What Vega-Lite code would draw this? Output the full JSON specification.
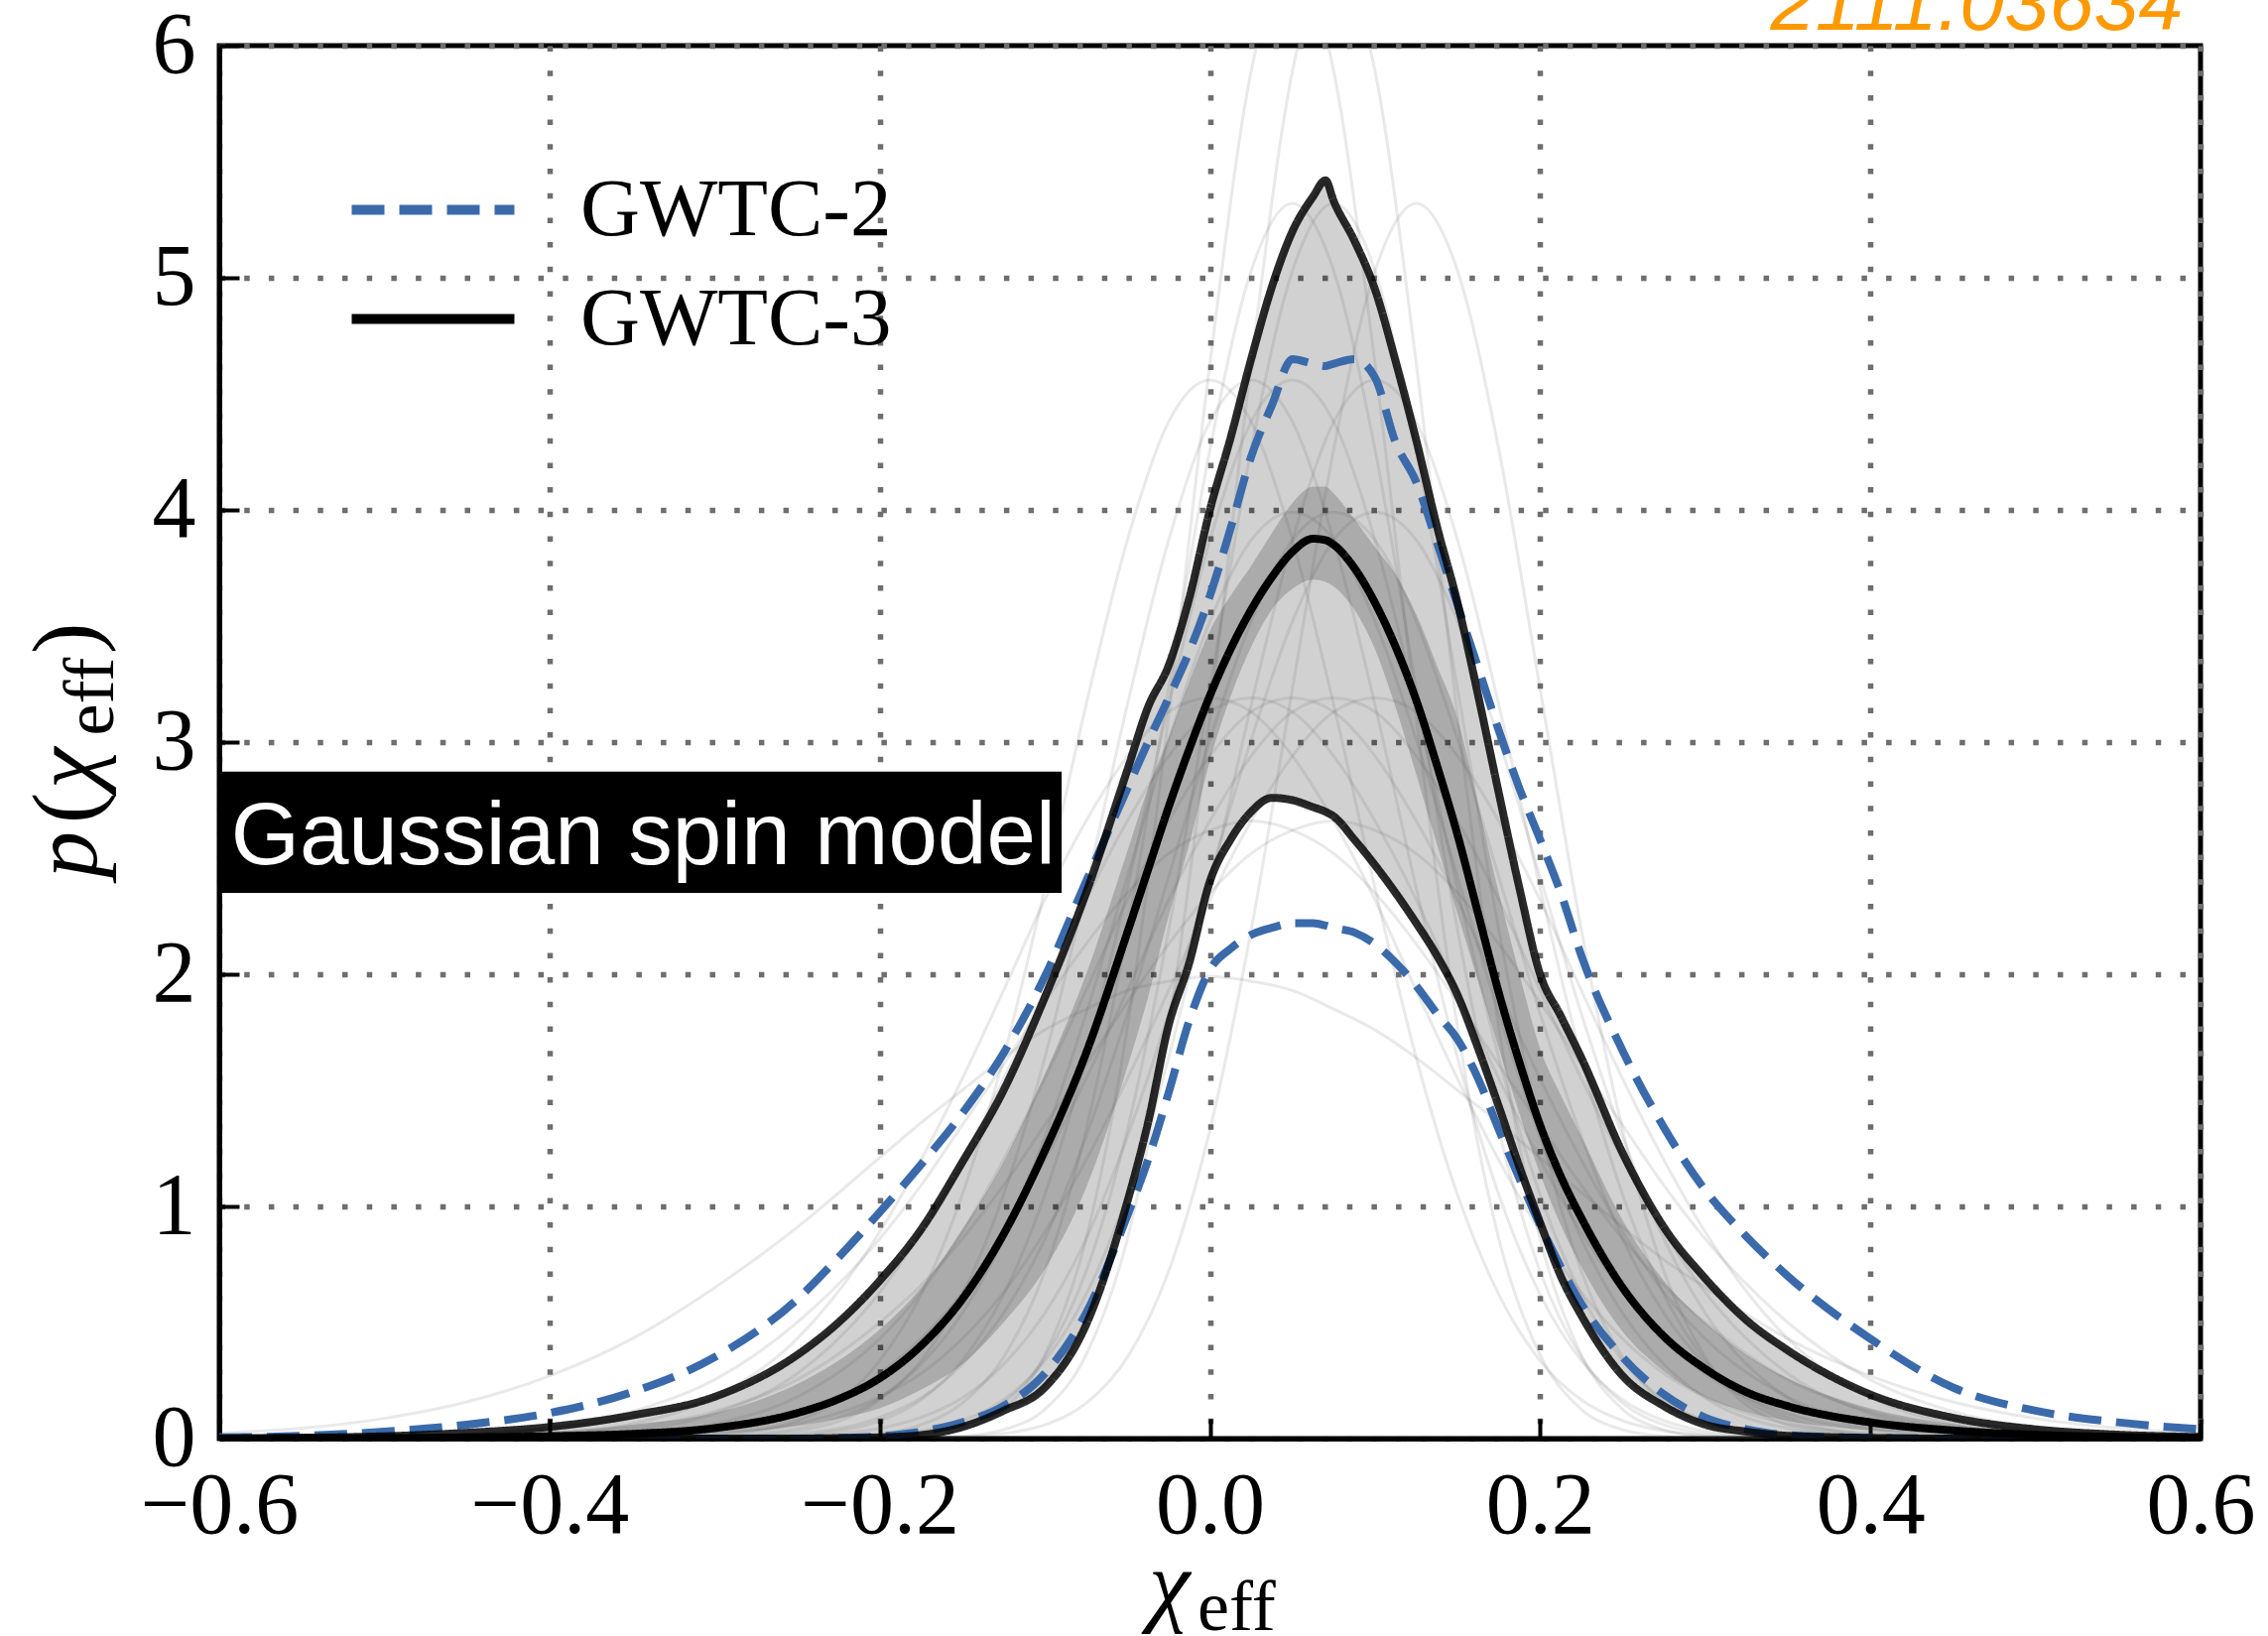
{
  "$schema": "https://vega.github.io/schema/vega-lite/v6.json",
  "width": 1997,
  "height": 1404,
  "autosize": {"type": "none"},
  "padding": {"left": 221, "top": 46, "right": 68, "bottom": 199},
  "background": "white",
  "config": {
    "view": {"stroke": "black", "strokeWidth": 5},
    "axis": {
      "domain": true, "domainColor": "black", "domainWidth": 5,
      "ticks": true, "tickColor": "black", "tickWidth": 4, "tickSize": -20,
      "labelFont": "Liberation Serif", "labelFontSize": 88, "labelColor": "black",
      "labelPadding": 44, "labelFlush": false, "labelOverlap": false, "labelBound": false,
      "grid": true, "gridColor": "#6e6e6e", "gridWidth": 5.5, "gridDash": [5.5, 19.2],
      "zindex": 1
    },
    "legend": {
      "orient": "top-left", "offset": 123.5, "padding": 0,
      "symbolType": "stroke", "symbolSize": 26896, "symbolStrokeWidth": 10, "symbolOffset": 4.5,
      "symbolOpacity": 1,
      "labelFont": "Liberation Serif", "labelFontSize": 83, "labelColor": "black",
      "labelOffset": 61.5, "clipHeight": 83, "rowPadding": 26, "labelLimit": 0
    }
  },
  "datasets": {
    "curves": [
      {"x": -0.6, "lo2": 0, "hi2": 0.005, "lo3": 0, "med3": 0, "hi3": 0.001, "loI": 0, "hiI": 0.0005},
      {"x": -0.55, "lo2": 0, "hi2": 0.012, "lo3": 0, "med3": 0.001, "hi3": 0.004, "loI": 0.0005, "hiI": 0.0025},
      {"x": -0.5, "lo2": 0, "hi2": 0.03, "lo3": 0, "med3": 0.002, "hi3": 0.01, "loI": 0.001, "hiI": 0.006},
      {"x": -0.45, "lo2": 0, "hi2": 0.06, "lo3": 0, "med3": 0.005, "hi3": 0.025, "loI": 0.0025, "hiI": 0.015},
      {"x": -0.4, "lo2": 0, "hi2": 0.11, "lo3": 0, "med3": 0.01, "hi3": 0.05, "loI": 0.005, "hiI": 0.03},
      {"x": -0.35, "lo2": 0, "hi2": 0.2, "lo3": 0, "med3": 0.02, "hi3": 0.1, "loI": 0.01, "hiI": 0.06},
      {"x": -0.3, "lo2": 0, "hi2": 0.35, "lo3": 0, "med3": 0.045, "hi3": 0.18, "loI": 0.02, "hiI": 0.11},
      {"x": -0.25, "lo2": 0, "hi2": 0.6, "lo3": 0, "med3": 0.11, "hi3": 0.36, "loI": 0.055, "hiI": 0.235},
      {"x": -0.225, "lo2": 0.003, "hi2": 0.78, "lo3": 0.002, "med3": 0.17, "hi3": 0.5, "loI": 0.086, "hiI": 0.335},
      {"x": -0.2, "lo2": 0.01, "hi2": 0.975, "lo3": 0.005, "med3": 0.26, "hi3": 0.68, "loI": 0.13, "hiI": 0.47},
      {"x": -0.175, "lo2": 0.03, "hi2": 1.18, "lo3": 0.015, "med3": 0.4, "hi3": 0.9, "loI": 0.21, "hiI": 0.65},
      {"x": -0.15, "lo2": 0.07, "hi2": 1.4, "lo3": 0.05, "med3": 0.6, "hi3": 1.19, "loI": 0.32, "hiI": 0.9},
      {"x": -0.125, "lo2": 0.14, "hi2": 1.66, "lo3": 0.12, "med3": 0.88, "hi3": 1.5, "loI": 0.5, "hiI": 1.19},
      {"x": -0.1, "lo2": 0.28, "hi2": 1.99, "lo3": 0.22, "med3": 1.24, "hi3": 1.9, "loI": 0.73, "hiI": 1.57},
      {"x": -0.075, "lo2": 0.54, "hi2": 2.4, "lo3": 0.49, "med3": 1.66, "hi3": 2.35, "loI": 1.08, "hiI": 2.0},
      {"x": -0.05, "lo2": 0.96, "hi2": 2.8, "lo3": 1.02, "med3": 2.18, "hi3": 2.88, "loI": 1.6, "hiI": 2.53},
      {"x": -0.0375, "lo2": 1.2, "hi2": 3.0, "lo3": 1.36, "med3": 2.45, "hi3": 3.15, "loI": 1.9, "hiI": 2.8},
      {"x": -0.025, "lo2": 1.49, "hi2": 3.19, "lo3": 1.78, "med3": 2.72, "hi3": 3.33, "loI": 2.25, "hiI": 3.02},
      {"x": -0.0125, "lo2": 1.8, "hi2": 3.39, "lo3": 2.05, "med3": 2.97, "hi3": 3.62, "loI": 2.56, "hiI": 3.26},
      {"x": 0, "lo2": 2.02, "hi2": 3.63, "lo3": 2.4, "med3": 3.2, "hi3": 4.0, "loI": 2.92, "hiI": 3.48},
      {"x": 0.0125, "lo2": 2.11, "hi2": 3.92, "lo3": 2.58, "med3": 3.4, "hi3": 4.31, "loI": 3.195, "hiI": 3.63},
      {"x": 0.025, "lo2": 2.17, "hi2": 4.23, "lo3": 2.7, "med3": 3.57, "hi3": 4.65, "loI": 3.41, "hiI": 3.76},
      {"x": 0.0375, "lo2": 2.2, "hi2": 4.45, "lo3": 2.76, "med3": 3.71, "hi3": 4.96, "loI": 3.57, "hiI": 3.9},
      {"x": 0.05, "lo2": 2.22, "hi2": 4.65, "lo3": 2.75, "med3": 3.82, "hi3": 5.2, "loI": 3.66, "hiI": 4.03},
      {"x": 0.0625, "lo2": 2.22, "hi2": 4.63, "lo3": 2.72, "med3": 3.876, "hi3": 5.35, "loI": 3.7, "hiI": 4.1},
      {"x": 0.07, "lo2": 2.21, "hi2": 4.62, "lo3": 2.7, "med3": 3.87, "hi3": 5.42, "loI": 3.69, "hiI": 4.1},
      {"x": 0.075, "lo2": 2.2, "hi2": 4.63, "lo3": 2.68, "med3": 3.85, "hi3": 5.33, "loI": 3.67, "hiI": 4.07},
      {"x": 0.0875, "lo2": 2.18, "hi2": 4.65, "lo3": 2.58, "med3": 3.75, "hi3": 5.16, "loI": 3.57, "hiI": 3.96},
      {"x": 0.1, "lo2": 2.13, "hi2": 4.57, "lo3": 2.47, "med3": 3.6, "hi3": 4.95, "loI": 3.4, "hiI": 3.84},
      {"x": 0.1125, "lo2": 2.05, "hi2": 4.29, "lo3": 2.35, "med3": 3.41, "hi3": 4.64, "loI": 3.15, "hiI": 3.72},
      {"x": 0.125, "lo2": 1.95, "hi2": 4.12, "lo3": 2.22, "med3": 3.18, "hi3": 4.3, "loI": 2.86, "hiI": 3.55},
      {"x": 0.1375, "lo2": 1.83, "hi2": 3.86, "lo3": 2.08, "med3": 2.9, "hi3": 3.93, "loI": 2.56, "hiI": 3.33},
      {"x": 0.15, "lo2": 1.72, "hi2": 3.59, "lo3": 1.91, "med3": 2.6, "hi3": 3.6, "loI": 2.26, "hiI": 3.1},
      {"x": 0.1625, "lo2": 1.55, "hi2": 3.32, "lo3": 1.68, "med3": 2.26, "hi3": 3.2, "loI": 1.97, "hiI": 2.73},
      {"x": 0.175, "lo2": 1.33, "hi2": 3.05, "lo3": 1.43, "med3": 1.92, "hi3": 2.78, "loI": 1.68, "hiI": 2.35},
      {"x": 0.1875, "lo2": 1.12, "hi2": 2.8, "lo3": 1.17, "med3": 1.62, "hi3": 2.37, "loI": 1.4, "hiI": 2.0},
      {"x": 0.2, "lo2": 0.92, "hi2": 2.58, "lo3": 0.93, "med3": 1.35, "hi3": 2.0, "loI": 1.14, "hiI": 1.68},
      {"x": 0.2125, "lo2": 0.74, "hi2": 2.35, "lo3": 0.7, "med3": 1.13, "hi3": 1.82, "loI": 0.92, "hiI": 1.48},
      {"x": 0.225, "lo2": 0.58, "hi2": 2.08, "lo3": 0.53, "med3": 0.95, "hi3": 1.64, "loI": 0.74, "hiI": 1.3},
      {"x": 0.25, "lo2": 0.35, "hi2": 1.67, "lo3": 0.27, "med3": 0.65, "hi3": 1.23, "loI": 0.46, "hiI": 0.94},
      {"x": 0.275, "lo2": 0.19, "hi2": 1.34, "lo3": 0.14, "med3": 0.44, "hi3": 0.91, "loI": 0.29, "hiI": 0.68},
      {"x": 0.3, "lo2": 0.09, "hi2": 1.07, "lo3": 0.06, "med3": 0.3, "hi3": 0.69, "loI": 0.18, "hiI": 0.5},
      {"x": 0.325, "lo2": 0.04, "hi2": 0.87, "lo3": 0.03, "med3": 0.2, "hi3": 0.51, "loI": 0.115, "hiI": 0.36},
      {"x": 0.35, "lo2": 0.015, "hi2": 0.7, "lo3": 0.012, "med3": 0.14, "hi3": 0.38, "loI": 0.076, "hiI": 0.26},
      {"x": 0.4, "lo2": 0.003, "hi2": 0.43, "lo3": 0.003, "med3": 0.07, "hi3": 0.19, "loI": 0.036, "hiI": 0.13},
      {"x": 0.45, "lo2": 0, "hi2": 0.22, "lo3": 0, "med3": 0.035, "hi3": 0.09, "loI": 0.018, "hiI": 0.063},
      {"x": 0.5, "lo2": 0, "hi2": 0.12, "lo3": 0, "med3": 0.016, "hi3": 0.04, "loI": 0.008, "hiI": 0.028},
      {"x": 0.55, "lo2": 0, "hi2": 0.07, "lo3": 0, "med3": 0.007, "hi3": 0.017, "loI": 0.003, "hiI": 0.012},
      {"x": 0.6, "lo2": 0, "hi2": 0.04, "lo3": 0, "med3": 0.003, "hi3": 0.007, "loI": 0.0015, "hiI": 0.005}
    ],
    "traces": [
      {"x": -0.6, "t1": 0, "t2": 0, "t3": 0, "t4": 0, "t5": 0, "t6": 0, "t7": 0, "t8": 0, "t9": 0, "t10": 0, "t11": 0, "t12": 0, "t13": 0, "t14": 0, "t15": 0, "t16": 0.022, "t17": 0, "t18": 0, "t19": 0, "t20": 0},
      {"x": -0.5, "t1": 0, "t2": 0, "t3": 0, "t4": 0, "t5": 0, "t6": 0.001, "t7": 0, "t8": 0, "t9": 0, "t10": 0, "t11": 0, "t12": 0, "t13": 0, "t14": 0.006, "t15": 0.002, "t16": 0.087, "t17": 0, "t18": 0, "t19": 0.001, "t20": 0},
      {"x": -0.45, "t1": 0, "t2": 0, "t3": 0, "t4": 0, "t5": 0, "t6": 0.002, "t7": 0.001, "t8": 0, "t9": 0, "t10": 0, "t11": 0, "t12": 0, "t13": 0, "t14": 0.018, "t15": 0.006, "t16": 0.158, "t17": 0, "t18": 0, "t19": 0.005, "t20": 0},
      {"x": -0.4, "t1": 0, "t2": 0, "t3": 0, "t4": 0, "t5": 0, "t6": 0.01, "t7": 0.005, "t8": 0.002, "t9": 0, "t10": 0, "t11": 0, "t12": 0, "t13": 0, "t14": 0.048, "t15": 0.018, "t16": 0.27, "t17": 0.001, "t18": 0, "t19": 0.019, "t20": 0},
      {"x": -0.35, "t1": 0.001, "t2": 0, "t3": 0, "t4": 0, "t5": 0, "t6": 0.035, "t7": 0.019, "t8": 0.01, "t9": 0, "t10": 0, "t11": 0, "t12": 0, "t13": 0.002, "t14": 0.117, "t15": 0.048, "t16": 0.43, "t17": 0.005, "t18": 0, "t19": 0.063, "t20": 0},
      {"x": -0.3, "t1": 0.009, "t2": 0.004, "t3": 0, "t4": 0, "t5": 0, "t6": 0.108, "t7": 0.063, "t8": 0.035, "t9": 0.001, "t10": 0.005, "t11": 0, "t12": 0, "t13": 0.013, "t14": 0.254, "t15": 0.117, "t16": 0.65, "t17": 0.019, "t18": 0, "t19": 0.179, "t20": 0.002},
      {"x": -0.25, "t1": 0.044, "t2": 0.02, "t3": 0.002, "t4": 0, "t5": 0.002, "t6": 0.28, "t7": 0.179, "t8": 0.108, "t9": 0.009, "t10": 0.033, "t11": 0, "t12": 0, "t13": 0.077, "t14": 0.5, "t15": 0.254, "t16": 0.91, "t17": 0.063, "t18": 0, "t19": 0.43, "t20": 0.013},
      {"x": -0.2, "t1": 0.175, "t2": 0.091, "t3": 0.021, "t4": 0.006, "t5": 0.013, "t6": 0.63, "t7": 0.43, "t8": 0.28, "t9": 0.044, "t10": 0.167, "t11": 0.002, "t12": 0, "t13": 0.335, "t14": 0.86, "t15": 0.5, "t16": 1.21, "t17": 0.179, "t18": 0, "t19": 0.89, "t20": 0.077},
      {"x": -0.175, "t1": 0.32, "t2": 0.175, "t3": 0.059, "t4": 0.021, "t5": 0.033, "t6": 0.89, "t7": 0.63, "t8": 0.43, "t9": 0.091, "t10": 0.335, "t11": 0.01, "t12": 0.002, "t13": 0.62, "t14": 1.09, "t15": 0.66, "t16": 1.36, "t17": 0.28, "t18": 0.002, "t19": 1.2, "t20": 0.167},
      {"x": -0.15, "t1": 0.54, "t2": 0.32, "t3": 0.152, "t4": 0.059, "t5": 0.077, "t6": 1.2, "t7": 0.89, "t8": 0.63, "t9": 0.175, "t10": 0.62, "t11": 0.038, "t12": 0.01, "t13": 1.05, "t14": 1.35, "t15": 0.86, "t16": 1.5, "t17": 0.43, "t18": 0.006, "t19": 1.55, "t20": 0.335},
      {"x": -0.125, "t1": 0.86, "t2": 0.54, "t3": 0.35, "t4": 0.152, "t5": 0.167, "t6": 1.55, "t7": 1.2, "t8": 0.89, "t9": 0.32, "t10": 1.05, "t11": 0.126, "t12": 0.038, "t13": 1.64, "t14": 1.61, "t15": 1.09, "t16": 1.64, "t17": 0.63, "t18": 0.021, "t19": 1.93, "t20": 0.62},
      {"x": -0.1, "t1": 1.3, "t2": 0.86, "t3": 0.72, "t4": 0.35, "t5": 0.335, "t6": 1.93, "t7": 1.55, "t8": 1.2, "t9": 0.54, "t10": 1.64, "t11": 0.36, "t12": 0.126, "t13": 2.37, "t14": 1.88, "t15": 1.35, "t16": 1.76, "t17": 0.89, "t18": 0.059, "t19": 2.32, "t20": 1.05},
      {"x": -0.075, "t1": 1.83, "t2": 1.3, "t3": 1.33, "t4": 0.72, "t5": 0.62, "t6": 2.32, "t7": 1.93, "t8": 1.55, "t9": 0.86, "t10": 2.37, "t11": 0.86, "t12": 0.36, "t13": 3.16, "t14": 2.13, "t15": 1.61, "t16": 1.85, "t17": 1.2, "t18": 0.152, "t19": 2.66, "t20": 1.64},
      {"x": -0.05, "t1": 2.42, "t2": 1.83, "t3": 2.19, "t4": 1.33, "t5": 1.05, "t6": 2.66, "t7": 2.32, "t8": 1.93, "t9": 1.3, "t10": 3.16, "t11": 1.77, "t12": 0.86, "t13": 3.87, "t14": 2.35, "t15": 1.88, "t16": 1.93, "t17": 1.55, "t18": 0.35, "t19": 2.94, "t20": 2.37},
      {"x": -0.025, "t1": 3.01, "t2": 2.42, "t3": 3.23, "t4": 2.19, "t5": 1.64, "t6": 2.94, "t7": 2.66, "t8": 2.32, "t9": 1.83, "t10": 3.87, "t11": 3.11, "t12": 1.77, "t13": 4.38, "t14": 2.52, "t15": 2.13, "t16": 1.97, "t17": 1.93, "t18": 0.72, "t19": 3.13, "t20": 3.16},
      {"x": 0, "t1": 3.52, "t2": 3.01, "t3": 4.26, "t4": 3.23, "t5": 2.37, "t6": 3.13, "t7": 2.94, "t8": 2.66, "t9": 2.42, "t10": 4.38, "t11": 4.63, "t12": 3.11, "t13": 4.56, "t14": 2.62, "t15": 2.35, "t16": 1.99, "t17": 2.32, "t18": 1.33, "t19": 3.19, "t20": 3.87},
      {"x": 0.025, "t1": 3.87, "t2": 3.52, "t3": 5.03, "t4": 4.26, "t5": 3.16, "t6": 3.19, "t7": 3.13, "t8": 2.94, "t9": 3.01, "t10": 4.56, "t11": 5.89, "t12": 4.63, "t13": 4.38, "t14": 2.66, "t15": 2.52, "t16": 1.97, "t17": 2.66, "t18": 2.19, "t19": 3.13, "t20": 4.38},
      {"x": 0.05, "t1": 3.99, "t2": 3.87, "t3": 5.32, "t4": 5.03, "t5": 3.87, "t6": 3.13, "t7": 3.19, "t8": 3.13, "t9": 3.52, "t10": 4.38, "t11": 6.38, "t12": 5.89, "t13": 3.87, "t14": 2.62, "t15": 2.62, "t16": 1.93, "t17": 2.94, "t18": 3.23, "t19": 2.94, "t20": 4.56},
      {"x": 0.075, "t1": 3.87, "t2": 3.99, "t3": 5.03, "t4": 5.32, "t5": 4.38, "t6": 2.94, "t7": 3.13, "t8": 3.19, "t9": 3.87, "t10": 3.87, "t11": 5.89, "t12": 6.38, "t13": 3.16, "t14": 2.52, "t15": 2.66, "t16": 1.85, "t17": 3.13, "t18": 4.26, "t19": 2.66, "t20": 4.38},
      {"x": 0.1, "t1": 3.52, "t2": 3.87, "t3": 4.26, "t4": 5.03, "t5": 4.56, "t6": 2.66, "t7": 2.94, "t8": 3.13, "t9": 3.99, "t10": 3.16, "t11": 4.63, "t12": 5.89, "t13": 2.37, "t14": 2.35, "t15": 2.62, "t16": 1.76, "t17": 3.19, "t18": 5.03, "t19": 2.32, "t20": 3.87},
      {"x": 0.125, "t1": 3.01, "t2": 3.52, "t3": 3.23, "t4": 4.26, "t5": 4.38, "t6": 2.32, "t7": 2.66, "t8": 2.94, "t9": 3.87, "t10": 2.37, "t11": 3.11, "t12": 4.63, "t13": 1.64, "t14": 2.13, "t15": 2.52, "t16": 1.64, "t17": 3.13, "t18": 5.32, "t19": 1.93, "t20": 3.16},
      {"x": 0.15, "t1": 2.42, "t2": 3.01, "t3": 2.19, "t4": 3.23, "t5": 3.87, "t6": 1.93, "t7": 2.32, "t8": 2.66, "t9": 3.52, "t10": 1.64, "t11": 1.77, "t12": 3.11, "t13": 1.05, "t14": 1.88, "t15": 2.35, "t16": 1.5, "t17": 2.94, "t18": 5.03, "t19": 1.55, "t20": 2.37},
      {"x": 0.175, "t1": 1.83, "t2": 2.42, "t3": 1.33, "t4": 2.19, "t5": 3.16, "t6": 1.55, "t7": 1.93, "t8": 2.32, "t9": 3.01, "t10": 1.05, "t11": 0.86, "t12": 1.77, "t13": 0.62, "t14": 1.61, "t15": 2.13, "t16": 1.36, "t17": 2.66, "t18": 4.26, "t19": 1.2, "t20": 1.64},
      {"x": 0.2, "t1": 1.3, "t2": 1.83, "t3": 0.72, "t4": 1.33, "t5": 2.37, "t6": 1.2, "t7": 1.55, "t8": 1.93, "t9": 2.42, "t10": 0.62, "t11": 0.36, "t12": 0.86, "t13": 0.335, "t14": 1.35, "t15": 1.88, "t16": 1.21, "t17": 2.32, "t18": 3.23, "t19": 0.89, "t20": 1.05},
      {"x": 0.225, "t1": 0.86, "t2": 1.3, "t3": 0.35, "t4": 0.72, "t5": 1.64, "t6": 0.89, "t7": 1.2, "t8": 1.55, "t9": 1.83, "t10": 0.335, "t11": 0.126, "t12": 0.36, "t13": 0.167, "t14": 1.09, "t15": 1.61, "t16": 1.06, "t17": 1.93, "t18": 2.19, "t19": 0.63, "t20": 0.62},
      {"x": 0.25, "t1": 0.54, "t2": 0.86, "t3": 0.152, "t4": 0.35, "t5": 1.05, "t6": 0.63, "t7": 0.89, "t8": 1.2, "t9": 1.3, "t10": 0.167, "t11": 0.038, "t12": 0.126, "t13": 0.077, "t14": 0.86, "t15": 1.35, "t16": 0.91, "t17": 1.55, "t18": 1.33, "t19": 0.43, "t20": 0.335},
      {"x": 0.275, "t1": 0.32, "t2": 0.54, "t3": 0.059, "t4": 0.152, "t5": 0.62, "t6": 0.43, "t7": 0.63, "t8": 0.89, "t9": 0.86, "t10": 0.077, "t11": 0.01, "t12": 0.038, "t13": 0.033, "t14": 0.66, "t15": 1.09, "t16": 0.77, "t17": 1.2, "t18": 0.72, "t19": 0.28, "t20": 0.167},
      {"x": 0.3, "t1": 0.175, "t2": 0.32, "t3": 0.021, "t4": 0.059, "t5": 0.335, "t6": 0.28, "t7": 0.43, "t8": 0.63, "t9": 0.54, "t10": 0.033, "t11": 0.002, "t12": 0.01, "t13": 0.013, "t14": 0.5, "t15": 0.86, "t16": 0.65, "t17": 0.89, "t18": 0.35, "t19": 0.179, "t20": 0.077},
      {"x": 0.35, "t1": 0.044, "t2": 0.091, "t3": 0.002, "t4": 0.006, "t5": 0.077, "t6": 0.108, "t7": 0.179, "t8": 0.28, "t9": 0.175, "t10": 0.005, "t11": 0, "t12": 0, "t13": 0.002, "t14": 0.254, "t15": 0.5, "t16": 0.43, "t17": 0.43, "t18": 0.059, "t19": 0.063, "t20": 0.013},
      {"x": 0.4, "t1": 0.009, "t2": 0.02, "t3": 0, "t4": 0, "t5": 0.013, "t6": 0.035, "t7": 0.063, "t8": 0.108, "t9": 0.044, "t10": 0, "t11": 0, "t12": 0, "t13": 0, "t14": 0.117, "t15": 0.254, "t16": 0.27, "t17": 0.179, "t18": 0.006, "t19": 0.019, "t20": 0.002},
      {"x": 0.45, "t1": 0.001, "t2": 0.004, "t3": 0, "t4": 0, "t5": 0.002, "t6": 0.01, "t7": 0.019, "t8": 0.035, "t9": 0.009, "t10": 0, "t11": 0, "t12": 0, "t13": 0, "t14": 0.048, "t15": 0.117, "t16": 0.158, "t17": 0.063, "t18": 0, "t19": 0.005, "t20": 0},
      {"x": 0.5, "t1": 0, "t2": 0.001, "t3": 0, "t4": 0, "t5": 0, "t6": 0.002, "t7": 0.005, "t8": 0.01, "t9": 0.001, "t10": 0, "t11": 0, "t12": 0, "t13": 0, "t14": 0.018, "t15": 0.048, "t16": 0.087, "t17": 0.019, "t18": 0, "t19": 0.001, "t20": 0},
      {"x": 0.6, "t1": 0, "t2": 0, "t3": 0, "t4": 0, "t5": 0, "t6": 0, "t7": 0, "t8": 0.001, "t9": 0, "t10": 0, "t11": 0, "t12": 0, "t13": 0, "t14": 0.002, "t15": 0.006, "t16": 0.022, "t17": 0.001, "t18": 0, "t19": 0, "t20": 0}
    ]
  },
  "layer": [
    {
      "data": {"name": "curves"},
      "mark": {"type": "area", "interpolate": "monotone", "color": "#000000", "opacity": 0.18, "clip": true},
      "encoding": {
        "x": {"field": "x", "type": "quantitative", "title": null,
              "scale": {"domain": [-0.6, 0.6], "nice": false, "zero": false},
              "axis": {"values": [-0.6, -0.4, -0.2, 0, 0.2, 0.4, 0.6], "format": ".1f", "title": null}},
        "y": {"field": "lo3", "type": "quantitative", "title": null,
              "scale": {"domain": [0, 6], "nice": false, "zero": false},
              "axis": {"values": [0, 1, 2, 3, 4, 5, 6], "format": "d", "title": null}},
        "y2": {"field": "hi3"}
      }
    },
    {
      "data": {"name": "curves"},
      "mark": {"type": "area", "interpolate": "monotone", "color": "#000000", "opacity": 0.18, "clip": true},
      "encoding": {
        "x": {"field": "x", "type": "quantitative", "title": null},
        "y": {"field": "loI", "type": "quantitative", "title": null},
        "y2": {"field": "hiI"}
      }
    },
    {
      "data": {"name": "traces"},
      "transform": [{"fold": ["t1", "t2", "t3", "t4", "t5", "t6", "t7", "t8", "t9", "t10", "t11", "t12", "t13", "t14", "t15", "t16", "t17", "t18", "t19", "t20"], "as": ["trace", "y"]}],
      "mark": {"type": "line", "interpolate": "monotone", "color": "#555555", "opacity": 0.13, "strokeWidth": 3, "clip": true},
      "encoding": {
        "x": {"field": "x", "type": "quantitative", "title": null},
        "y": {"field": "y", "type": "quantitative", "title": null},
        "detail": {"field": "trace", "type": "nominal"}
      }
    },
    {
      "data": {"name": "curves"},
      "transform": [{"fold": ["lo2", "hi2"], "as": ["bound", "y"]}],
      "mark": {"type": "line", "interpolate": "monotone", "strokeWidth": 8, "clip": true},
      "encoding": {
        "x": {"field": "x", "type": "quantitative", "title": null},
        "y": {"field": "y", "type": "quantitative", "title": null},
        "detail": {"field": "bound", "type": "nominal"},
        "color": {"datum": "GWTC-2", "type": "nominal",
                  "scale": {"domain": ["GWTC-2", "GWTC-3"], "range": ["#3a6aaa", "#000000"]},
                  "legend": {"title": null}},
        "strokeDash": {"datum": "GWTC-2", "type": "nominal",
                  "scale": {"domain": ["GWTC-2", "GWTC-3"], "range": [[33, 15], [1, 0]]},
                  "legend": {"title": null}}
      }
    },
    {
      "data": {"name": "curves"},
      "transform": [{"fold": ["lo3", "hi3"], "as": ["bound", "y"]}],
      "mark": {"type": "line", "interpolate": "monotone", "strokeWidth": 8, "opacity": 0.84, "clip": true},
      "encoding": {
        "x": {"field": "x", "type": "quantitative", "title": null},
        "y": {"field": "y", "type": "quantitative", "title": null},
        "detail": {"field": "bound", "type": "nominal"},
        "color": {"datum": "GWTC-3", "type": "nominal"},
        "strokeDash": {"datum": "GWTC-3", "type": "nominal"}
      }
    },
    {
      "data": {"name": "curves"},
      "mark": {"type": "line", "interpolate": "monotone", "strokeWidth": 8, "clip": true},
      "encoding": {
        "x": {"field": "x", "type": "quantitative", "title": null},
        "y": {"field": "med3", "type": "quantitative", "title": null},
        "color": {"datum": "GWTC-3", "type": "nominal"},
        "strokeDash": {"datum": "GWTC-3", "type": "nominal"}
      }
    },
    {
      "data": {"values": [{}]},
      "mark": {"type": "rect", "color": "#000000"},
      "encoding": {
        "x": {"datum": -0.6}, "x2": {"datum": -0.0898},
        "y": {"datum": 2.35}, "y2": {"datum": 2.873}
      }
    },
    {
      "data": {"values": [{"label": "Gaussian spin model"}]},
      "mark": {"type": "text", "font": "Liberation Sans", "fontSize": 89, "color": "#ffffff", "align": "left", "baseline": "alphabetic"},
      "encoding": {"x": {"datum": -0.593}, "y": {"datum": 2.474}, "text": {"field": "label"}}
    },
    {
      "data": {"values": [{"label": "2111.03634"}]},
      "mark": {"type": "text", "font": "Liberation Sans", "fontStyle": "italic", "fontSize": 81, "color": "#ff9900", "align": "right", "baseline": "alphabetic"},
      "encoding": {"x": {"datum": 0.5895}, "y": {"datum": 6.068}, "text": {"field": "label"}}
    },
    {
      "data": {"values": [{"label": "χ"}]},
      "mark": {"type": "text", "font": "Liberation Serif", "fontStyle": "italic", "fontSize": 94, "color": "#000000", "align": "left", "baseline": "alphabetic"},
      "encoding": {"x": {"datum": -0.037}, "y": {"datum": -0.756}, "text": {"field": "label"}}
    },
    {
      "data": {"values": [{"label": "eff"}]},
      "mark": {"type": "text", "font": "Liberation Serif", "fontSize": 72, "color": "#000000", "align": "left", "baseline": "alphabetic"},
      "encoding": {"x": {"datum": -0.0075}, "y": {"datum": -0.825}, "text": {"field": "label"}}
    },
    {
      "data": {"values": [{"label": "p"}]},
      "mark": {"type": "text", "font": "Liberation Serif", "fontStyle": "italic", "fontSize": 94, "color": "#000000", "align": "left", "baseline": "alphabetic", "angle": 270},
      "encoding": {"x": {"datum": -0.6746}, "y": {"datum": 2.4145}, "text": {"field": "label"}}
    },
    {
      "data": {"values": [{"label": "("}]},
      "mark": {"type": "text", "font": "Liberation Serif", "fontSize": 94, "color": "#000000", "align": "left", "baseline": "alphabetic", "angle": 270},
      "encoding": {"x": {"datum": -0.6746}, "y": {"datum": 2.6496}, "text": {"field": "label"}}
    },
    {
      "data": {"values": [{"label": "χ"}]},
      "mark": {"type": "text", "font": "Liberation Serif", "fontStyle": "italic", "fontSize": 94, "color": "#000000", "align": "left", "baseline": "alphabetic", "angle": 270},
      "encoding": {"x": {"datum": -0.6746}, "y": {"datum": 2.7991}, "text": {"field": "label"}}
    },
    {
      "data": {"values": [{"label": "eff"}]},
      "mark": {"type": "text", "font": "Liberation Serif", "fontSize": 72, "color": "#000000", "align": "left", "baseline": "alphabetic", "angle": 270},
      "encoding": {"x": {"datum": -0.6644}, "y": {"datum": 3.028}, "text": {"field": "label"}}
    },
    {
      "data": {"values": [{"label": ")"}]},
      "mark": {"type": "text", "font": "Liberation Serif", "fontSize": 94, "color": "#000000", "align": "left", "baseline": "alphabetic", "angle": 270},
      "encoding": {"x": {"datum": -0.6746}, "y": {"datum": 3.38}, "text": {"field": "label"}}
    }
  ]
}
